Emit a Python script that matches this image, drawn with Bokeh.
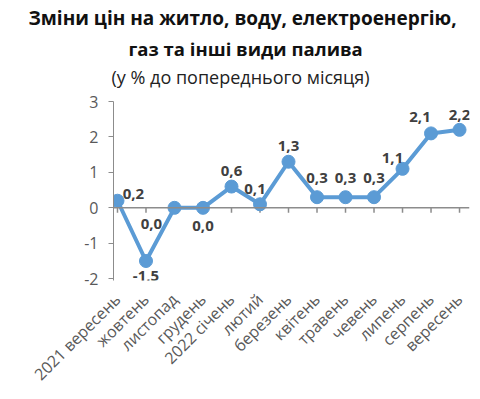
import math
from bokeh.plotting import figure
from bokeh.models import Range1d, FixedTicker, Span, Title, ColumnDataSource, LabelSet
from bokeh.core.properties import value
from bokeh.embed import file_html
from bokeh.resources import INLINE

categories = ["2021 вересень", "жовтень", "листопад", "грудень", "2022 січень",
              "лютий", "березень", "квітень", "травень", "чевень", "липень",
              "серпень", "вересень"]
values = [0.2, -1.5, 0.0, 0.0, 0.6, 0.1, 1.3, 0.3, 0.3, 0.3, 1.1, 2.1, 2.2]
y_ticks = [-2, -1, 0, 1, 2, 3]

# label offsets (style) in screen pixels
lab_dx = [16, 0, -23, 0, 0, -5, 0, 0, 0, 0, -10, -11, 0]
lab_dy = [7, -15, -16, -18, 16, 15, 16, 19, 19, 19, 11, 16, 15]

FONT = "Open Sans"
GRAY = "#595959"
AXIS = "#8c8c8c"
BLUE = "#5B9BD5"

idx = list(range(len(categories)))
src = ColumnDataSource(dict(
    x=idx, y=values,
    lab=[f"{v:.1f}".replace(".", ",") for v in values],
    dx=lab_dx, dy=lab_dy,
    y0=[0.0] * len(idx), y1=[-0.14] * len(idx),
))

p = figure(width=480, height=399, output_backend="svg", toolbar_location=None,
           x_range=Range1d(-0.14, 12.35), y_range=Range1d(-2.05, 3),
           min_border_left=113, min_border_right=11, min_border_top=101,
           min_border_bottom=119)
p.outline_line_color = None
p.grid.grid_line_color = None
p.background_fill_color = "white"
p.border_fill_color = "white"

# titles (added innermost first); a tiny spacer keeps the subtitle off the frame
p.add_layout(Title(text=" ", text_font=FONT, text_font_size="1px",
                   align="left", standoff=9), "above")
p.add_layout(Title(text="(у % до попереднього місяця)", text_font=FONT,
                   text_font_size="18px", text_font_style="normal",
                   text_color="#222222", align="left", offset=-2, standoff=2), "above")
p.add_layout(Title(text="газ та інші види палива", text_font=FONT,
                   text_font_size="18.5px", text_font_style="bold",
                   text_color="#111111", align="left", offset=15, standoff=2), "above")
p.add_layout(Title(text="Зміни цін на житло, воду, електроенергію,", text_font=FONT,
                   text_font_size="19px", text_font_style="bold",
                   text_color="#111111", align="left", offset=-85, standoff=4), "above")

# y axis
p.yaxis.ticker = FixedTicker(ticks=y_ticks)
p.yaxis.major_label_overrides = {t: str(t) for t in y_ticks}
p.yaxis.axis_line_color = AXIS
p.yaxis.major_tick_line_color = AXIS
p.yaxis.major_tick_out = 5
p.yaxis.major_tick_in = 0
p.yaxis.minor_tick_line_color = None
p.yaxis.major_label_text_font = FONT
p.yaxis.major_label_text_font_size = "16px"
p.yaxis.major_label_text_color = GRAY
p.yaxis.major_label_standoff = 10

# x axis (labels only, at bottom)
p.xaxis.ticker = FixedTicker(ticks=idx)
p.xaxis.major_label_overrides = {i: c for i, c in zip(idx, categories)}
p.xaxis.major_label_orientation = math.pi / 4
p.xaxis.axis_line_color = None
p.xaxis.major_tick_line_color = None
p.xaxis.minor_tick_line_color = None
p.xaxis.major_label_text_font = FONT
p.xaxis.major_label_text_font_size = "16px"
p.xaxis.major_label_text_color = GRAY
p.xaxis.major_label_standoff = 10

# zero line with category ticks
p.add_layout(Span(location=0, dimension="width", line_color=AXIS, line_width=1.5))
p.segment(x0="x", y0="y0", x1="x", y1="y1", source=src, line_color=AXIS, line_width=1.5)

p.line("x", "y", source=src, line_color=BLUE, line_width=4)
p.scatter("x", "y", source=src, size=13, fill_color=BLUE, line_color=BLUE)

labels = LabelSet(x="x", y="y", text="lab", x_offset="dx", y_offset="dy", source=src,
                  text_align="center", text_baseline="middle", text_font=value(FONT),
                  text_font_size=value("15px"), text_font_style="bold", text_color="#404040")
p.add_layout(labels)

open("out.html", "w").write(file_html(p, INLINE))
